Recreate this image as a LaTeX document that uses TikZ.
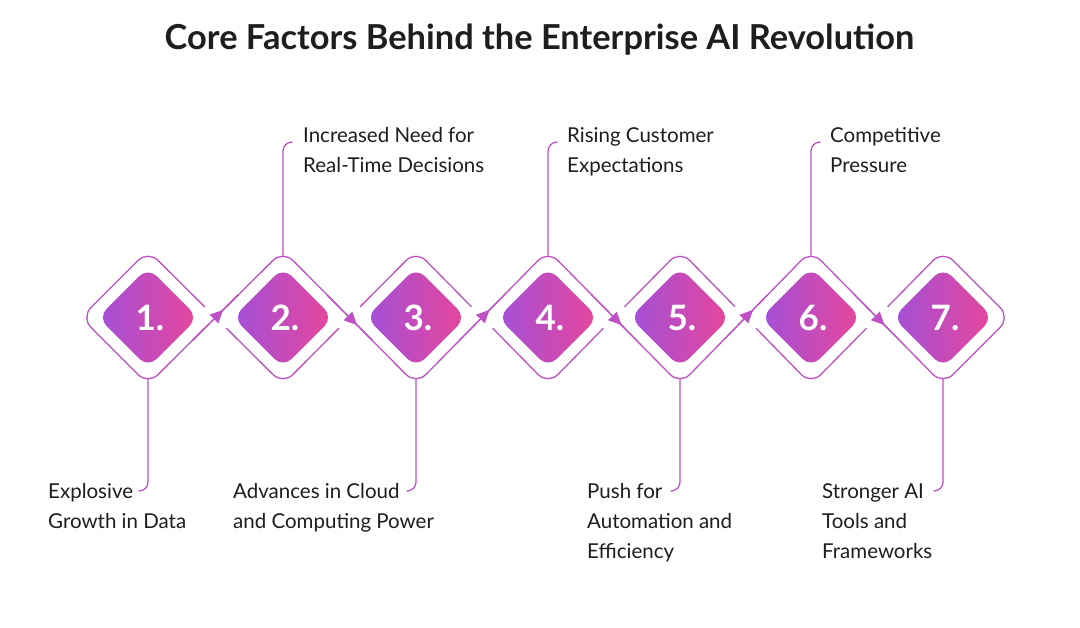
\documentclass[tikz,border=0pt]{standalone}
\usepackage{fontspec}
\setmainfont{Lato}
\newfontfamily\titlefont{Lato Bold}
\usetikzlibrary{calc,arrows.meta}
\definecolor{lnc}{HTML}{BF50C6}
\definecolor{gradL}{HTML}{A250D8}
\definecolor{gradR}{HTML}{E8469A}
\definecolor{txt}{HTML}{1E1E1E}
\tikzset{
  ln/.style={draw=lnc, line width=1.3pt, line cap=round},
  gap/.style={draw=white, line width=30pt, line cap=butt},
  tip/.style={ln, -{Triangle[length=13pt,width=12pt]}},
  lbl/.style={anchor=base west, inner sep=0pt, text=txt, font=\fontsize{20.5}{30}\selectfont},
  num/.style={anchor=center, inner sep=0pt, text=white, font=\titlefont\fontsize{35}{35}\selectfont},
}
\begin{document}
\begin{tikzpicture}[x=1pt,y=-1pt]
\useasboundingbox[fill=white] (0,0) rectangle (1080,628);
\node[anchor=base, inner sep=0pt, text=txt, font=\titlefont\fontsize{34.4}{34.4}\selectfont] (title) at (539.5,49.5) {Core Factors Behind the Enterprise AI Revolution};
\foreach \i/\x in {1/148,2/283,3/416,4/548,5/680,6/811,7/943}{
  \coordinate (C\i) at (\x,317.5);
  \coordinate (T\i) at (\x,250.5);
  \coordinate (B\i) at (\x,384.5);
  \coordinate (t\i) at (\x,256.5);
  \coordinate (b\i) at (\x,378.5);
}
\coordinate (L1) at (81,317.5);
\coordinate (R7) at (1010,317.5);
% outer loop
\draw[ln, rounded corners=14pt] ($(L1)!0.5!(B1)$) -- (B1) -- (T2) -- (B3) -- (T4) -- (B5) -- (T6) -- (B7) -- (R7) -- (T7) -- (B6) -- (T5) -- (B4) -- (T3) -- (B2) -- (T1) -- (L1) -- cycle;
% crossings
\foreach \a/\b in {B1/T2,T2/B3,B3/T4,T4/B5,B5/T6,T6/B7}{
  \draw[gap] ($(\a)!0.46!(\b)$) -- ($(\a)!0.54!(\b)$);
  \draw[ln] ($(\a)!0.33!(\b)$) -- ($(\a)!0.67!(\b)$);
  \draw[tip] ($(\a)!0.47!(\b)$) -- ($(\a)!0.557!(\b)$);
}
% inner diamonds
\foreach \i in {1,...,7}{
  \shade[left color=gradL, right color=gradR, rounded corners=12pt]
    ($(C\i)+(-50,0)$) -- ($(C\i)+(0,-50)$) -- ($(C\i)+(50,0)$) -- ($(C\i)+(0,50)$) -- cycle;
  \node[num] (n\i) at ($(C\i)+(2,0.5)$) {\i.};
}
% label connectors
\foreach \i in {2,4,6}{
  \draw[ln, rounded corners=9pt] (t\i) |- ($(t\i)+(9,-114.5)$) coordinate (h\i);
}
\foreach \i in {1,3,5,7}{
  \draw[ln, rounded corners=9pt] (b\i) |- ($(b\i)+(-9,112.5)$) coordinate (h\i);
}
% labels
\node[lbl] (l1a) at (48,498.5) {Explosive};
\node[lbl] (l1b) at (48,528.5) {Growth in Data};
\node[lbl] (l2a) at (303,143) {Increased Need for};
\node[lbl] (l2b) at (303,173) {Real-Time Decisions};
\node[lbl] (l3a) at (233,498.5) {Advances in Cloud};
\node[lbl] (l3b) at (233,528.5) {and Computing Power};
\node[lbl] (l4a) at (567,143) {Rising Customer};
\node[lbl] (l4b) at (567,173) {Expectations};
\node[lbl] (l5a) at (587,498.5) {Push for};
\node[lbl] (l5b) at (587,528.5) {Automation and};
\node[lbl] (l5c) at (587,558.5) {Efficiency};
\node[lbl] (l6a) at (830,143) {Competitive};
\node[lbl] (l6b) at (830,173) {Pressure};
\node[lbl] (l7a) at (822,498.5) {Stronger AI};
\node[lbl] (l7b) at (822,528.5) {Tools and};
\node[lbl] (l7c) at (822,558.5) {Frameworks};
\end{tikzpicture}
\end{document}
